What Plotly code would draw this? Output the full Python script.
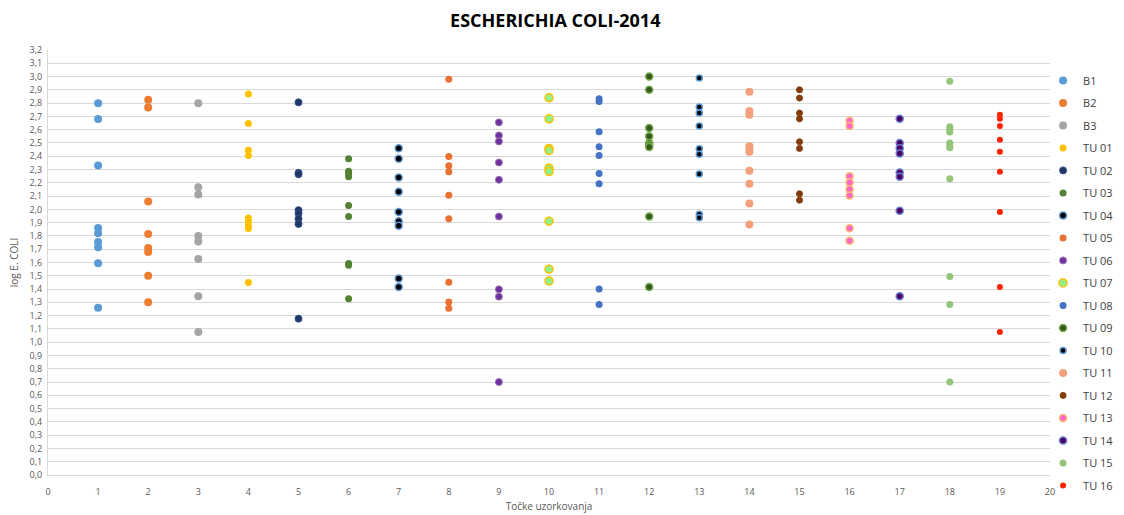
import plotly.graph_objects as go

series_names = ["B1", "B2", "B3", "TU 01", "TU 02", "TU 03", "TU 04", "TU 05", "TU 06",
                "TU 07", "TU 08", "TU 09", "TU 10", "TU 11", "TU 12", "TU 13", "TU 14",
                "TU 15", "TU 16"]
sampling_point = list(range(1, 20))

b1 = [2.80, 2.68, 2.33, 1.86, 1.82, 1.755, 1.715, 1.595, 1.26]
b2 = [2.826, 2.768, 2.06, 1.815, 1.71, 1.68, 1.50, 1.30]
b3 = [2.80, 2.167, 2.112, 1.80, 1.758, 1.627, 1.346, 1.077]
tu01 = [2.868, 2.647, 2.446, 2.406, 1.936, 1.911, 1.88, 1.856, 1.45]
tu02 = [2.806, 2.275, 2.265, 1.994, 1.97, 1.929, 1.89, 1.177]
tu03 = [2.381, 2.288, 2.268, 2.245, 2.029, 1.946, 1.592, 1.58, 1.328]
tu04 = [2.461, 2.381, 2.24, 2.132, 1.981, 1.911, 1.876, 1.479, 1.416]
tu05 = [2.98, 2.398, 2.328, 2.283, 2.107, 1.929, 1.451, 1.303, 1.255]
tu06 = [2.655, 2.557, 2.512, 2.353, 2.223, 1.946, 1.398, 1.343, 0.70]
tu07 = [2.84, 2.682, 2.459, 2.444, 2.31, 2.285, 1.911, 1.55, 1.461]
tu08 = [2.833, 2.813, 2.584, 2.471, 2.406, 2.27, 2.193, 1.40, 1.283]
tu09 = [3.0, 2.90, 2.612, 2.55, 2.50, 2.485, 2.469, 1.946, 1.416]
tu10 = [2.99, 2.77, 2.725, 2.627, 2.456, 2.416, 2.266, 1.964, 1.937]
tu11 = [2.886, 2.74, 2.713, 2.476, 2.455, 2.434, 2.29, 2.193, 2.044, 1.886]
tu12 = [2.90, 2.838, 2.725, 2.682, 2.509, 2.459, 2.117, 2.069]
tu13 = [2.667, 2.627, 2.25, 2.203, 2.152, 2.104, 1.858, 1.763]
tu14 = [2.682, 2.499, 2.461, 2.421, 2.278, 2.245, 1.989, 1.346]
tu15 = [2.964, 2.622, 2.60, 2.582, 2.50, 2.48, 2.464, 2.23, 1.494, 1.283, 0.70]
tu16 = [2.713, 2.682, 2.627, 2.524, 2.434, 2.283, 1.981, 1.416, 1.077]

all_values = [b1, b2, b3, tu01, tu02, tu03, tu04, tu05, tu06, tu07, tu08, tu09,
              tu10, tu11, tu12, tu13, tu14, tu15, tu16]

fill_colors = ["#5B9BD5", "#ED7D31", "#A5A5A5", "#FFC000", "#203864", "#548235",
               "#000000", "#E97132", "#7030A0", "#92F08A", "#4472C4", "#375623",
               "#000000", "#F4A07A", "#843C0C", "#FF66CC", "#4B0060", "#92C47A",
               "#FF2200"]
line_colors = ["#5B9BD5", "#ED7D31", "#A5A5A5", "#FFC000", "#2F4F8F", "#548235",
               "#5B9BD5", "#E97132", "#9A7AB0", "#FFC000", "#4472C4", "#70AD47",
               "#5B9BD5", "#F4A07A", "#843C0C", "#F8B870", "#6A7BD0", "#92C47A",
               "#FF2200"]
sizes = [8, 8, 8, 7, 7, 7, 7, 7, 7, 8, 7, 7, 6, 8, 6, 7, 7, 7, 6]
line_widths = [0, 0, 0, 0, 1, 0, 1.5, 0, 1, 1.5, 0, 1.5, 1.5, 0, 1, 1.5, 1.5, 0, 0]

fig = go.Figure()
for i, (name, vals) in enumerate(zip(series_names, all_values)):
    fig.add_trace(go.Scatter(
        x=[sampling_point[i]] * len(vals), y=vals, mode="markers", name=name,
        legendgroup=name,
        marker=dict(size=sizes[i], color=fill_colors[i],
                    line=dict(color=line_colors[i], width=line_widths[i])),
    ))

font_family = "Open Sans, Noto Sans, sans-serif"
fig.update_layout(
    width=1124, height=515,
    margin=dict(l=48, r=74, t=50, b=40, autoexpand=False),
    paper_bgcolor="white", plot_bgcolor="white",
    separators=", ",
    font=dict(family=font_family, size=9, color="#595959"),
    title=dict(text="<b>ESCHERICHIA COLI-2014</b>", x=0.494, xanchor="center",
               y=0.96, yanchor="middle",
               font=dict(family=font_family, size=18, color="#000000")),
    xaxis=dict(range=[0, 20], tickmode="linear", tick0=0, dtick=1, automargin=False,
               showgrid=False, zeroline=False, showline=True, linecolor="#D9D9D9",
               linewidth=1, ticks="", ticklabelstandoff=8,
               tickfont=dict(size=9, color="#595959"),
               title=dict(text="Točke uzorkovanja", font=dict(size=10, color="#595959"),
                          standoff=6)),
    yaxis=dict(range=[0, 3.2], tickmode="linear", tick0=0, dtick=0.1, automargin=False,
               tickformat=".1f", showgrid=True, gridcolor="#D9D9D9", gridwidth=1,
               zeroline=False, showline=True, linecolor="#D9D9D9", ticks="",
               ticklabelstandoff=3,
               tickfont=dict(size=9, color="#595959"),
               title=dict(text="log E. COLI", font=dict(size=10, color="#595959"),
                          standoff=9)),
    legend=dict(xref="container", yref="container", x=0.928, xanchor="left",
                y=0.872, yanchor="top", maxheight=490,
                traceorder="grouped", tracegroupgap=3.5,
                font=dict(family=font_family, size=11, color="#404040"),
                itemwidth=30, bgcolor="rgba(0,0,0,0)"),
    showlegend=True,
)

fig.write_html("out.html", config={"displayModeBar": False},
               post_script="document.body.style.margin='0px';")
